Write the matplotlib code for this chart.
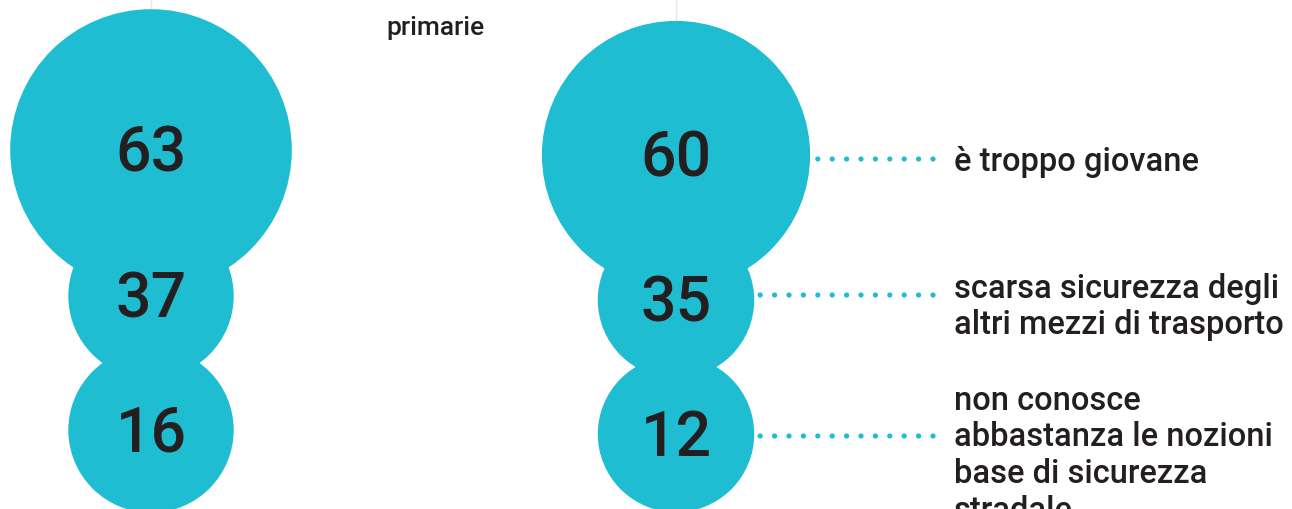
#!/usr/bin/env python3

# bubble chart: reasons why children do not go to school alone (primarie)

import numpy as np
import matplotlib.pyplot as plt
import matplotlib.patches as patches

# data
left_values = [63, 37, 16]
right_values = [60, 35, 12]
right_labels = ['è troppo giovane',
                'scarsa sicurezza degli\naltri mezzi di trasporto',
                'non conosce\nabbastanza le nozioni\nbase di sicurezza\nstradale']
title = 'primarie'

# style
CYAN = '#1fbdd2'
DARK = '#231f20'
FONT = ['Roboto', 'DejaVu Sans']
R_SCALE = 2.235  # pixels of radius per percentage point

fig = plt.figure(figsize=(12.92, 5.10), dpi=100)
ax = fig.add_axes([0, 0, 1, 1])
ax.set_xlim(0, 1292)
ax.set_ylim(510, 0)
ax.set_aspect('equal')
ax.axis('off')


def radii(values):
    r = [v * R_SCALE for v in values]
    # the last bubble is drawn at the size of the one above it in the original
    r[-1] = r[-2]
    return r


def draw_column(values, cx, cys):
    ax.plot([cx, cx], [0, cys[0]], color='#e6e6e6', lw=1, zorder=0)
    for v, r, cy in zip(values, radii(values), cys):
        ax.add_patch(patches.Circle((cx, cy), r, facecolor=CYAN, edgecolor='none', zorder=1))
        ax.text(cx, cy + 4, str(v), ha='center', va='center', fontsize=45,
                family=FONT, fontweight='medium', color=DARK, zorder=3)


left_cx, left_cys = 151, [151, 297, 431]
right_cx, right_cys = 676, [156, 301, 435]

draw_column(left_values, left_cx, left_cys)
draw_column(right_values, right_cx, right_cys)

# dotted leaders and labels on the right
dot_ys = [160, 296, 437]
label_tops = [146, 273, 385]
dot_end, dot_step = 933, 14.4
for r, cy, dy, label, top in zip(radii(right_values), right_cys, dot_ys, right_labels, label_tops):
    edge = right_cx + np.sqrt(max(r ** 2 - (dy - cy) ** 2, 0))
    xs = np.arange(dot_end, edge + 5, -dot_step)
    ax.scatter(xs, [dy] * len(xs), s=14, color=CYAN, edgecolors='none', zorder=2)
    ax.text(954, top, label, ha='left', va='top', fontsize=23.5, family=FONT,
            fontweight='medium', color=DARK, linespacing=1.18)

ax.text(435, 28, title, ha='center', va='center', fontsize=19, family=FONT,
        fontweight='medium', color=DARK)

fig.savefig('out.png', dpi=100)
